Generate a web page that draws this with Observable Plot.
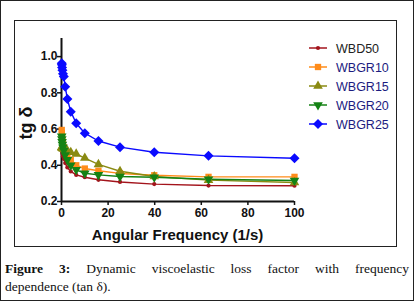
<!DOCTYPE html>
<html>
<head>
<meta charset="utf-8">
<script src="https://cdn.jsdelivr.net/npm/d3@7"></script>
<script src="https://cdn.jsdelivr.net/npm/@observablehq/plot@0.6"></script>
<style>
  html, body { margin: 0; padding: 0; background: #fff; }
  #page { position: relative; width: 414px; height: 301px; overflow: hidden; background: #fff; }
  #outer { position: absolute; left: 0; top: 0; width: 414px; height: 301px; box-sizing: border-box; border: 1px solid #222; }
  #inner { position: absolute; left: 14px; top: 20px; width: 383px; height: 227px; box-sizing: border-box; border: 1px solid #222; }
  #chart { position: absolute; left: 0; top: 0; }
  #legend { position: absolute; left: 300px; top: 38px; }
  .lab { position: absolute; font-family: "Liberation Sans", Arial, sans-serif; font-weight: bold; color: #111; white-space: nowrap; }
  #xlab { left: 0; width: 355px; text-align: center; top: 226px; font-size: 15px; }
  #ylab { left: 26px; top: 123px; font-size: 18px; transform: translate(-50%, -50%) rotate(-90deg); }
  #caption { position: absolute; left: 5px; top: 260px; width: 404px; font-family: "Liberation Serif", "Times New Roman", serif; font-size: 13.5px; line-height: 18px; color: #111; }
  #caption .l1 { text-align: justify; text-align-last: justify; }
</style>
</head>
<body>
<div id="page">
  <div id="outer"></div>
  <div id="inner"></div>
  <div id="chart"></div>
  <div id="legend"></div>
  <div class="lab" id="xlab">Angular Frequency (1/s)</div>
  <div class="lab" id="ylab">tg δ</div>
  <div id="caption">
    <div class="l1"><b>Figure 3:</b> Dynamic viscoelastic loss factor with frequency</div>
    <div>dependence (tan δ).</div>
  </div>
</div>
<script>
// ---- data ----
const frequency = [0.1, 0.158, 0.251, 0.398, 0.631, 1, 1.585, 2.512, 3.981, 6.31, 10, 15.85, 25.12, 39.81, 63.1, 100];
const WBD50  = [0.50, 0.49, 0.478, 0.465, 0.45, 0.435, 0.412, 0.388, 0.366, 0.347, 0.334, 0.320, 0.308, 0.296, 0.288, 0.287];
const WBGR10 = [0.595, 0.578, 0.56, 0.54, 0.52, 0.50, 0.476, 0.452, 0.43, 0.40, 0.382, 0.370, 0.355, 0.345, 0.336, 0.336];
const WBGR15 = [0.50, 0.498, 0.496, 0.494, 0.492, 0.49, 0.487, 0.482, 0.472, 0.463, 0.44, 0.405, 0.367, 0.338, 0.318, 0.305];
const WBGR20 = [0.56, 0.545, 0.53, 0.515, 0.50, 0.482, 0.457, 0.43, 0.40, 0.375, 0.356, 0.347, 0.338, 0.334, 0.323, 0.316];
const WBGR25 = [0.963, 0.955, 0.94, 0.925, 0.905, 0.89, 0.834, 0.766, 0.696, 0.632, 0.577, 0.534, 0.500, 0.472, 0.452, 0.439];
const seriesNames = ["WBD50", "WBGR10", "WBGR15", "WBGR20", "WBGR25"];
const seriesValues = [WBD50, WBGR10, WBGR15, WBGR20, WBGR25];
const colors = ["#a3141c", "#ff8c1a", "#8a8a12", "#148214", "#0a0aff"];
const textColors = ["#222222", "#1c1c80", "#1c1c80", "#1c1c80", "#1c1c80"];
const xTicks = [0, 20, 40, 60, 80, 100];
const yTicks = [0.2, 0.4, 0.6, 0.8, 1.0];

// custom symbols
const triangleDown = {
  draw(ctx, size) {
    const s = Math.sqrt(size / (Math.sqrt(3) / 4));
    const h = s * Math.sqrt(3) / 2;
    ctx.moveTo(0, h * 2 / 3);
    ctx.lineTo(s / 2, -h / 3);
    ctx.lineTo(-s / 2, -h / 3);
    ctx.closePath();
  }
};
const triangleUp = {
  draw(ctx, size) {
    const s = Math.sqrt(size / (Math.sqrt(3) / 4));
    const h = s * Math.sqrt(3) / 2;
    ctx.moveTo(0, -h * 2 / 3);
    ctx.lineTo(s / 2, h / 3);
    ctx.lineTo(-s / 2, h / 3);
    ctx.closePath();
  }
};
const diamondWide = {
  draw(ctx, size) {
    const r = Math.sqrt(size / 2);
    ctx.moveTo(0, -r);
    ctx.lineTo(r, 0);
    ctx.lineTo(0, r);
    ctx.lineTo(-r, 0);
    ctx.closePath();
  }
};
const squareSym = {
  draw(ctx, size) {
    const w = Math.sqrt(size);
    ctx.rect(-w / 2, -w / 2, w, w);
  }
};
const circleSym = {
  draw(ctx, size) {
    const r = Math.sqrt(size / Math.PI);
    ctx.moveTo(r, 0);
    ctx.arc(0, 0, r, 0, 2 * Math.PI);
  }
};
const symbols = [circleSym, squareSym, triangleUp, triangleDown, diamondWide];
const sizes = [14, 40, 40, 40, 50];

const data = [];
seriesNames.forEach((name, i) => {
  frequency.forEach((f, j) => data.push({series: name, idx: i, f, v: seriesValues[i][j]}));
});

const marks = [
  Plot.ruleX([0], {y1: 0.2, y2: 1.1, stroke: "#111", strokeWidth: 2}),
  Plot.ruleY([0.2], {x1: 0, x2: 100, stroke: "#111", strokeWidth: 2}),
  Plot.axisX({ticks: xTicks, tickSize: 4, tickPadding: 3, fontSize: 12, fontWeight: "bold", label: null, stroke: "#111", strokeWidth: 1.5}),
  Plot.axisY({ticks: yTicks, tickSize: 4, tickPadding: 0, fontSize: 12, fontWeight: "bold", label: null, tickFormat: d3.format(".1f"), stroke: "#111", strokeWidth: 1.5})
];
seriesNames.forEach((name, i) => {
  const d = data.filter(r => r.series === name);
  marks.push(Plot.line(d, {x: "f", y: "v", stroke: colors[i], strokeWidth: 1.4}));
});
seriesNames.forEach((name, i) => {
  const d = data.filter(r => r.series === name);
  const sym = symbols[i];
  const sz = sizes[i];
  marks.push(Plot.dot(d, {x: "f", y: "v", fill: colors[i], stroke: "none", symbol: () => sym, r: Math.sqrt(sz / Math.PI)}));
});

const chart = Plot.plot({
  width: 414,
  height: 250,
  marginLeft: 61,
  marginRight: 120,
  marginTop: 38,
  marginBottom: 49,
  x: {domain: [0, 100]},
  y: {domain: [0.2, 1.1]},
  symbol: {type: "identity"},
  style: {fontFamily: "'Liberation Sans', Arial, sans-serif", color: "#111", background: "transparent"},
  marks
});
document.getElementById("chart").append(chart);

// legend
const lg = d3.select("#legend").append("svg").attr("width", 110).attr("height", 100)
  .style("font-family", "'Liberation Sans', Arial, sans-serif");
seriesNames.forEach((name, i) => {
  const y = 10 + i * 19;
  const g = lg.append("g").attr("transform", `translate(0,${y})`);
  g.append("line").attr("x1", 9).attr("x2", 27).attr("y1", 0).attr("y2", 0).attr("stroke", colors[i]).attr("stroke-width", 1.5);
  g.append("path").attr("transform", "translate(18,0)").attr("d", d3.symbol(symbols[i], sizes[i])()).attr("fill", colors[i]);
  g.append("text").attr("x", 36).attr("y", 0).attr("dy", "0.36em").attr("font-size", 12.5).attr("fill", textColors[i]).text(name);
});
</script>
</body>
</html>
